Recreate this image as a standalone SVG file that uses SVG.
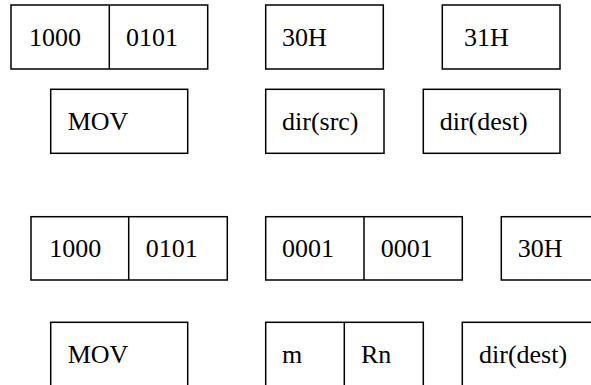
<svg xmlns="http://www.w3.org/2000/svg" width="591" height="385" viewBox="0 0 591 385">
  <style>
    rect, line { fill: none; stroke: #000; stroke-width: 1.5; }
    text { font-family: "Liberation Serif", "Times New Roman", serif; font-size: 26px; fill: #000; }
  </style>
  <rect x="0" y="0" width="591" height="385" style="fill:#fff;stroke:none"/>

  <!-- MOV dir,dir : machine code fields -->
  <g id="code1-op">
    <rect x="11" y="5" width="196.7" height="64"/>
    <line x1="109.3" y1="5" x2="109.3" y2="69"/>
    <text x="29" y="46">1000</text>
    <text x="126" y="46">0101</text>
  </g>
  <g id="code1-src">
    <rect x="265.7" y="5" width="117.6" height="64"/>
    <text x="282" y="46">30H</text>
  </g>
  <g id="code1-dest">
    <rect x="442.3" y="5" width="117.7" height="64"/>
    <text x="464" y="46">31H</text>
  </g>

  <!-- MOV dir,dir : field meanings -->
  <g id="fmt1-op">
    <rect x="50.7" y="89.3" width="137" height="64"/>
    <text x="67.7" y="130">MOV</text>
  </g>
  <g id="fmt1-src">
    <rect x="265.7" y="89.3" width="118.3" height="64"/>
    <text x="282" y="130">dir(src)</text>
  </g>
  <g id="fmt1-dest">
    <rect x="423.3" y="89.3" width="136.7" height="64"/>
    <text x="439.7" y="130">dir(dest)</text>
  </g>

  <!-- MOV dir,Rn : machine code fields -->
  <g id="code2-op">
    <rect x="31" y="216.7" width="196.3" height="63.3"/>
    <line x1="128.7" y1="216.7" x2="128.7" y2="280"/>
    <text x="49.3" y="256.7">1000</text>
    <text x="145.7" y="256.7">0101</text>
  </g>
  <g id="code2-reg">
    <rect x="265.7" y="216.7" width="196.6" height="63.3"/>
    <line x1="364" y1="216.7" x2="364" y2="280"/>
    <text x="282" y="256.7">0001</text>
    <text x="380.7" y="256.7">0001</text>
  </g>
  <g id="code2-dest">
    <rect x="501.3" y="216.7" width="120" height="63.3"/>
    <text x="517.7" y="256.7">30H</text>
  </g>

  <!-- MOV dir,Rn : field meanings -->
  <g id="fmt2-op">
    <rect x="50.7" y="322.3" width="137" height="90"/>
    <text x="67.7" y="362.7">MOV</text>
  </g>
  <g id="fmt2-reg">
    <rect x="265.7" y="322.3" width="157.6" height="90"/>
    <line x1="344.3" y1="322.3" x2="344.3" y2="412.3"/>
    <text x="282" y="362.7">m</text>
    <text x="361" y="362.7">Rn</text>
  </g>
  <g id="fmt2-dest">
    <rect x="462.3" y="322.3" width="160" height="90"/>
    <text x="479" y="362.7">dir(dest)</text>
  </g>

  <g id="connectors"/>
</svg>
